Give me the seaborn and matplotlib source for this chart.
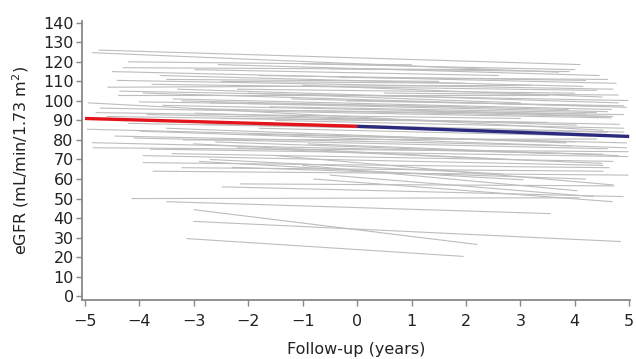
import matplotlib
matplotlib.use("Agg")
import matplotlib.pyplot as plt
import seaborn as sns
import pandas as pd

# Individual patient trajectories: start time, start eGFR, end time, end eGFR
start_t = [-4.74, -4.87, -2.55, -4.30, -2.98, -4.50, -3.62, -4.41, -3.77, -4.58,
           -1.80, -0.50, -4.36, -3.93, -4.39, -3.38, -3.22, -4.94, -3.57, -4.72,
           -3.86, -2.98, -2.00, -1.00, -2.50, -1.20,
           -4.96, -3.99, -3.50, -4.45, -4.87, -4.85, -3.80, -2.80, -3.20, -2.00,
           -1.50, -4.20, -3.00, -2.20,
           -3.93, -3.93, -3.75, -3.22, -2.70, -2.48, -2.15, -1.50, -2.90, -1.00,
           -0.50, -4.14, -3.50, -3.00, -3.00, -3.13, -0.80,
           -3.50, -2.20, -4.00, -3.00, -2.50, -1.00, -4.60, -0.30, 0.50,
           -4.20, -1.00, -3.30, -2.70, -4.80, -3.60, -1.80, -4.10, -2.60, -3.40,
           -0.90, -2.30, -1.60, -0.20, 1.00]
start_y = [126.0, 124.7, 118.6, 117.0, 116.0, 115.0, 113.0, 110.5, 108.5, 107.0,
           113.0, 116.5, 105.0, 104.0, 103.0, 101.0, 100.0, 99.0, 97.7, 96.3,
           93.0, 93.7, 104.0, 108.0, 110.0, 101.0,
           85.5, 84.5, 86.0, 82.0, 78.6, 76.0, 75.3, 88.0, 80.0, 83.0,
           90.0, 88.5, 78.0, 76.0,
           72.0, 68.4, 64.0, 65.8, 70.0, 56.0, 57.5, 72.0, 69.0, 67.0,
           62.0, 50.0, 48.4, 44.3, 38.3, 29.5, 60.0,
           111.0, 106.0, 99.5, 96.0, 91.0, 95.0, 92.0, 112.0, 104.0,
           120.0, 119.0, 106.0, 99.0, 94.0, 90.0, 86.0, 81.0, 79.0, 73.0,
           78.0, 66.0, 97.0, 100.0, 95.0]
end_t = [4.10, 3.70, 4.45, 2.46, 2.60, 4.76, 4.15, 4.70, 4.40, 3.20,
         4.20, 3.90, 4.98, 4.95, 3.50, 4.67, 3.88, 4.52, 4.20, 4.67,
         4.82, 4.03, 3.00, 4.50, 2.00, 4.30,
         4.95, 4.95, 3.84, 3.93, 4.52, 4.98, 4.98, 4.60, 4.40, 4.00,
         4.90, 2.50, 2.80, 4.50,
         4.52, 4.63, 4.98, 4.52, 2.68, 4.89, 4.72, 4.70, 3.05, 4.04,
         4.34, 4.08, 3.55, 2.20, 4.84, 1.95, 4.69,
         1.50, 4.00, 2.00, 4.60, 3.50, 4.90, 0.50, 4.60, 4.80,
         1.00, 4.00, 4.80, 4.60, 3.00, 4.90, 4.30, 4.60, 3.60, 4.70,
         4.80, 4.20, 4.40, 4.90, 4.70]
end_y = [118.6, 114.7, 113.0, 116.0, 113.0, 109.0, 107.4, 106.0, 105.4, 108.0,
         110.5, 115.0, 100.2, 96.7, 103.0, 95.6, 95.6, 85.0, 93.3, 91.3,
         88.0, 87.6, 99.0, 102.0, 109.0, 97.5,
         78.5, 76.0, 78.5, 77.0, 72.7, 74.0, 71.5, 84.0, 80.5, 79.0,
         86.0, 85.0, 70.0, 68.0,
         67.0, 65.8, 62.0, 64.0, 62.6, 51.0, 56.5, 57.0, 59.6, 54.0,
         51.0, 50.4, 42.3, 26.5, 28.0, 20.4, 48.4,
         110.0, 104.0, 97.0, 92.0, 89.0, 93.0, 90.0, 111.0, 103.0,
         118.5, 116.0, 99.0, 94.5, 91.0, 84.0, 82.0, 75.5, 73.0, 69.0,
         72.0, 60.0, 94.0, 97.5, 92.0]

# Mean slopes before and after baseline
pre_t = [-5.0, 0.0]
pre_y = [91.0, 87.0]
post_t = [0.0, 5.0]
post_y = [87.0, 81.8]

rows = []
for i, (a, b, c, d) in enumerate(zip(start_t, start_y, end_t, end_y)):
    rows.append({"id": i, "t": a, "egfr": b})
    rows.append({"id": i, "t": c, "egfr": d})
df = pd.DataFrame(rows)
pre = pd.DataFrame({"t": pre_t, "egfr": pre_y})
post = pd.DataFrame({"t": post_t, "egfr": post_y})

sns.set_theme(style="ticks")
plt.rcParams["font.family"] = ["DejaVu Sans"]

fig = plt.figure(figsize=(6.36, 3.59), dpi=100)
ax = fig.add_axes([0.129, 0.164, 0.862, 0.778])

sns.lineplot(data=df, x="t", y="egfr", units="id", estimator=None, sort=False,
             color="#bdbdbd", lw=0.8, ax=ax)
sns.lineplot(data=pre, x="t", y="egfr", color="#e3141c", lw=2.4, ax=ax,
             solid_capstyle="butt")
sns.lineplot(data=post, x="t", y="egfr", color="#2b2a7e", lw=2.4, ax=ax,
             solid_capstyle="butt")

ax.set_xlim(-5.055, 5.02)
ax.set_ylim(-2, 141)
ax.set_xticks(range(-5, 6))
ax.set_yticks(range(0, 141, 10))
ax.set_xlabel("Follow-up (years)", fontsize=11.5, color="#222222", labelpad=9)
ax.set_ylabel("eGFR (mL/min/1.73 m$^2$)", fontsize=11.5, color="#222222", labelpad=9)
ax.tick_params(axis="both", labelsize=11.5, colors="#222222", length=4,
               width=1.0, color="#888888")
ax.tick_params(axis="x", pad=6)
ax.tick_params(axis="y", pad=2)
for s in ["top", "right"]:
    ax.spines[s].set_visible(False)
for s in ["left", "bottom"]:
    ax.spines[s].set_color("#888888")
    ax.spines[s].set_linewidth(1.3)

fig.savefig("out.png", dpi=100)
